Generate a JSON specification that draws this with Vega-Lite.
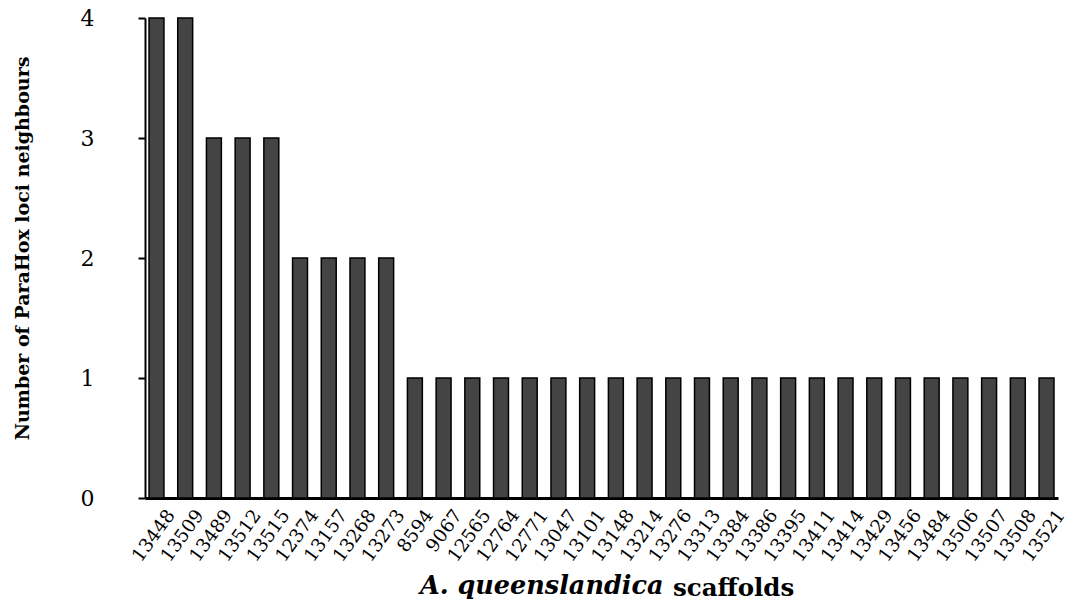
{
  "$schema": "https://vega.github.io/schema/vega-lite/v6.json",
  "width": 913,
  "height": 480,
  "autosize": {"type": "none"},
  "padding": {"left": 145, "top": 18, "right": 11, "bottom": 102},
  "background": "white",
  "config": {"view": {"stroke": null}, "font": "DejaVu Serif"},
  "title": {
    "text": "scaffolds",
    "orient": "bottom",
    "anchor": "start",
    "frame": "group",
    "dx": 528,
    "dy": -26,
    "font": "DejaVu Serif",
    "fontSize": 24.5,
    "fontWeight": "bold",
    "color": "black"
  },
  "data": {
    "values": [
      {"scaffold": "13448", "count": 4},
      {"scaffold": "13509", "count": 4},
      {"scaffold": "13489", "count": 3},
      {"scaffold": "13512", "count": 3},
      {"scaffold": "13515", "count": 3},
      {"scaffold": "12374", "count": 2},
      {"scaffold": "13157", "count": 2},
      {"scaffold": "13268", "count": 2},
      {"scaffold": "13273", "count": 2},
      {"scaffold": "8594", "count": 1},
      {"scaffold": "9067", "count": 1},
      {"scaffold": "12565", "count": 1},
      {"scaffold": "12764", "count": 1},
      {"scaffold": "12771", "count": 1},
      {"scaffold": "13047", "count": 1},
      {"scaffold": "13101", "count": 1},
      {"scaffold": "13148", "count": 1},
      {"scaffold": "13214", "count": 1},
      {"scaffold": "13276", "count": 1},
      {"scaffold": "13313", "count": 1},
      {"scaffold": "13384", "count": 1},
      {"scaffold": "13386", "count": 1},
      {"scaffold": "13395", "count": 1},
      {"scaffold": "13411", "count": 1},
      {"scaffold": "13414", "count": 1},
      {"scaffold": "13429", "count": 1},
      {"scaffold": "13456", "count": 1},
      {"scaffold": "13484", "count": 1},
      {"scaffold": "13506", "count": 1},
      {"scaffold": "13507", "count": 1},
      {"scaffold": "13508", "count": 1},
      {"scaffold": "13521", "count": 1}
    ]
  },
  "mark": {"type": "bar", "fill": "#444444", "stroke": "black", "strokeWidth": 1.5},
  "encoding": {
    "x": {
      "field": "scaffold",
      "type": "nominal",
      "sort": null,
      "scale": {"paddingInner": 0.48, "paddingOuter": 0.14},
      "axis": {
        "title": "A. queenslandica",
        "titleFont": "DejaVu Serif",
        "titleFontSize": 25.5,
        "titleFontWeight": "bold",
        "titleFontStyle": "italic",
        "titleColor": "black",
        "titleAlign": "right",
        "titleAnchor": null,
        "titleX": 518,
        "titleY": 95,
        "titleBaseline": "alphabetic",
        "labelAngle": -54,
        "labelAlign": "right",
        "labelBaseline": "top",
        "labelFont": "DejaVu Serif",
        "labelFontSize": 18.5,
        "labelColor": "black",
        "labelPadding": 8,
        "labelOffset": 7,
        "labelOverlap": false,
        "ticks": false,
        "domainColor": "black",
        "domainWidth": 3
      }
    },
    "y": {
      "field": "count",
      "type": "quantitative",
      "scale": {"domain": [0, 4], "nice": false},
      "axis": {
        "title": "Number of ParaHox loci neighbours",
        "titleFont": "DejaVu Serif",
        "titleFontSize": 19,
        "titleFontWeight": "bold",
        "titleColor": "black",
        "titlePadding": 48,
        "titleY": 230,
        "values": [0, 1, 2, 3, 4],
        "labelFont": "DejaVu Serif",
        "labelFontSize": 22,
        "labelColor": "black",
        "labelPadding": 44,
        "tickSize": 7,
        "tickWidth": 2,
        "tickColor": "black",
        "domainColor": "black",
        "domainWidth": 2,
        "grid": false
      }
    }
  }
}
